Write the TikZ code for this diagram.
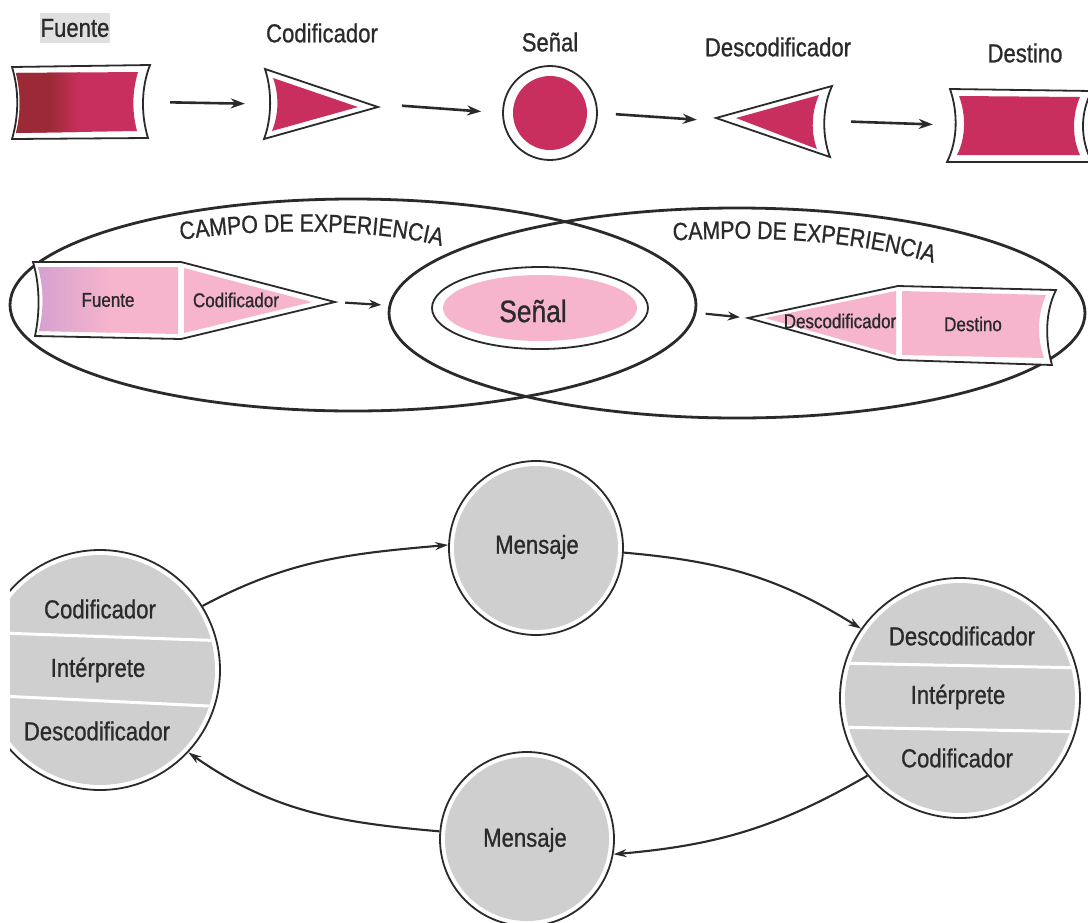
\documentclass[tikz,border=0pt]{standalone}
\usepackage{fontspec}
\setmainfont{Liberation Sans}[FakeStretch=0.85,FakeBold=0.8]
\usetikzlibrary{arrows.meta,decorations.text,shapes.geometric}
\definecolor{crim}{HTML}{C92F5E}
\definecolor{crimdark}{HTML}{9C2A36}
\definecolor{pinkf}{HTML}{F6B4CD}
\definecolor{mauve}{HTML}{C99AD0}
\definecolor{greyf}{HTML}{CFCFCF}
\definecolor{txt}{HTML}{2A2A2A}
\definecolor{ink}{HTML}{2A2A2A}
\tikzset{
  outl/.style={draw=ink, line width=1.8pt},
  bigell/.style={ellipse, draw=ink, line width=2.8pt, inner sep=0pt},
  flow/.style={draw=ink, line width=2.6pt, -{Stealth[length=14pt,width=10pt]}},
  midflow/.style={draw=ink, line width=2.2pt, -{Stealth[length=12pt,width=9pt]}},
  loopflow/.style={draw=ink, line width=2.1pt, -{Stealth[length=13pt,width=8pt]}},
  lbl/.style={text=txt, font=\fontsize{26}{30}\selectfont, inner sep=0pt},
  small/.style={text=txt, font=\fontsize{20}{24}\selectfont, inner sep=0pt},
  anchorbox/.style={draw=none, inner sep=0pt, rectangle},
  disc/.style={circle, draw=ink, line width=1.8pt, fill=white, inner sep=0pt},
  divider/.style={draw=white, line width=3pt},
}
\begin{document}
\begin{tikzpicture}[x=1pt,y=-1pt]
\useasboundingbox (0,0) rectangle (1088,922);
\fill[white] (0,0) rectangle (1088,922);

% ---------------- top row ----------------
\node[anchorbox, minimum width=138pt, minimum height=73pt] (fuente) at (81,102) {};
\node[anchorbox, minimum width=113pt, minimum height=69pt] (codif) at (321.5,104) {};
\node[disc, minimum size=94pt] (senal) at (550,113) {};
\node[anchorbox, minimum width=116pt, minimum height=72pt] (descod) at (774,121) {};
\node[anchorbox, minimum width=140pt, minimum height=72pt] (destino) at (1020,125) {};

% Fuente
\draw[outl, fill=white] (12,67) -- (150,65) .. controls (141,88) and (141,115) .. (148,138)
  -- (12,139) .. controls (19,115) and (19,90) .. cycle;
\begin{scope}
  \clip (16,73) -- (138,72) .. controls (132,92) and (132,112) .. (137,131)
    -- (16,133) .. controls (21,113) and (21,93) .. cycle;
  \fill[crim] (10,60) rectangle (150,140);
  \fill[crimdark] (10,60) rectangle (50,140);
  \shade[left color=crimdark, right color=crim] (50,60) rectangle (80,140);
\end{scope}
% Codificador
\draw[outl, fill=white] (265,69) -- (378,107) -- (264,139) .. controls (272,118) and (272,90) .. cycle;
\fill[crim] (273,78) -- (358,107) -- (272,131) .. controls (279,114) and (279,94) .. cycle;
% Senal
\fill[crim] (senal.center) circle[radius=37];
% Descodificador
\draw[outl, fill=white] (716,118) -- (832,86) .. controls (822,108) and (822,136) .. (830,157) -- cycle;
\fill[crim] (736,118) -- (819,95) .. controls (811,113) and (811,133) .. (817,149) -- cycle;
% Destino
\draw[outl, fill=white] (950,89) -- (1092,91) .. controls (1080,112) and (1080,140) .. (1092,162)
  -- (947,162) .. controls (958,140) and (958,112) .. cycle;
\fill[crim] (959,96) -- (1080,97) .. controls (1072,115) and (1072,138) .. (1080,155)
  -- (957,155) .. controls (966,138) and (966,114) .. cycle;

\draw[flow, shorten <=20pt, shorten >=20pt] (fuente.east) -- (codif.west);
\draw[flow, shorten <=24pt, shorten >=21pt] (codif.east) -- (senal.west);
\draw[flow, shorten <=18pt, shorten >=19pt] (senal.east) -- (descod.west);
\draw[flow, shorten <=19pt, shorten >=17pt] (descod.east) -- (destino.west);

\node[lbl, fill=black!12, inner xsep=1pt, inner ysep=6pt] (tfuente) at (75,28) {Fuente};
\node[lbl] (tcodif) at (322,33) {Codificador};
\node[lbl] (tsenal) at (550,42) {Señal};
\node[lbl] (tdescod) at (778,47) {Descodificador};
\node[lbl] (tdestino) at (1025,53) {Destino};

% ---------------- middle ----------------
\node[bigell, minimum width=686pt, minimum height=212pt] (campoA) at (353,305) {};
\node[bigell, minimum width=696pt, minimum height=210pt] (campoB) at (737,313) {};

\path[decorate, decoration={text along path, text align=center,
  text={|\fontsize{25}{25}\selectfont\color{txt}|CAMPO DE EXPERIENCIA}}]
  (174,241) .. controls (260,227) and (380,228) .. (448,248);
\path[decorate, decoration={text along path, text align=center,
  text={|\fontsize{25}{25}\selectfont\color{txt}|CAMPO DE EXPERIENCIA}}]
  (666,241) .. controls (760,235) and (860,240) .. (940,265);

% left composite
\node[anchorbox, minimum width=302pt, minimum height=76pt] (leftshape) at (184,302) {};
\draw[outl, fill=white] (33,262) -- (181,262) -- (335,302) -- (181,339) -- (35,336)
  .. controls (40,313) and (40,285) .. cycle;
\begin{scope}
  \clip (38,267) -- (178,267) -- (178,334) -- (39,331) .. controls (44,310) and (44,288) .. cycle;
  \fill[pinkf] (30,260) rectangle (180,340);
  \shade[left color=mauve!80!pinkf, right color=pinkf] (30,260) rectangle (110,340);
\end{scope}
\fill[pinkf] (184,268) -- (312,302) -- (184,333) -- cycle;
\node[small] (mfuente) at (108,300) {Fuente};
\node[small] (mcodif) at (236,300) {Codificador};

% senal middle
\node[ellipse, outl, fill=white, inner sep=0pt, minimum width=216pt, minimum height=82pt] (senalM) at (540,308) {};
\fill[pinkf] (senalM.center) ellipse[x radius=97, y radius=33];
\node[text=txt, font=\fontsize{31}{34}\selectfont, inner sep=0pt] (msenal) at (533,311) {Señal};

% right composite
\node[anchorbox, minimum width=308pt, minimum height=76pt] (rightshape) at (902,318) {};
\draw[outl, fill=white] (748,318) -- (898,286) -- (1056,290) .. controls (1045,312) and (1045,340) .. (1052,365)
  -- (898,360) -- cycle;
\fill[pinkf] (765,318) -- (896,291) -- (896,355) -- cycle;
\fill[pinkf] (902,291) -- (1046,295) .. controls (1037,315) and (1037,338) .. (1044,358) -- (902,355) -- cycle;
\node[small] (mdescod) at (840,321) {Descodificador};
\node[small] (mdestino) at (973,324) {Destino};

\draw[midflow, shorten <=10pt, shorten >=50pt] (leftshape.east) -- (senalM.west);
\draw[midflow, shorten <=57pt, shorten >=8pt] (senalM.east) -- (rightshape.west);

% ---------------- bottom ----------------
\begin{scope}
  \clip (10,0) rectangle (1088,922);
  \node[disc, minimum size=240pt] (L) at (100,670) {};
  \fill[greyf] (L.center) circle[radius=115];
  \begin{scope}
    \clip (L.center) circle[radius=115];
    \draw[divider] (0,633) -- (230,641);
    \draw[divider] (0,696) -- (230,707);
  \end{scope}
\end{scope}
\node[lbl] (lcod) at (100,609) {Codificador};
\node[lbl] (linter) at (98,670) {Intérprete};
\node[lbl] (ldesc) at (97,731) {Descodificador};

\node[disc, minimum size=240pt] (R) at (960,698) {};
\fill[greyf] (R.center) circle[radius=115];
\begin{scope}
  \clip (R.center) circle[radius=115];
  \draw[divider] (830,663) -- (1090,668);
  \draw[divider] (830,727) -- (1090,732);
\end{scope}
\node[lbl] (rdesc) at (962,636) {Descodificador};
\node[lbl] (rinter) at (958,697) {Intérprete};
\node[lbl] (rcod) at (957,758) {Codificador};

\node[disc, minimum size=174pt] (M1) at (536,548) {};
\fill[greyf] (M1.center) circle[radius=82];
\node[lbl] (m1t) at (537,547) {Mensaje};

\node[disc, minimum size=174pt] (M2) at (527,839) {};
\fill[greyf] (M2.center) circle[radius=82];
\node[lbl] (m2t) at (525,840) {Mensaje};

\draw[loopflow] (L.32) to[out=28, in=185] (M1.178);
\draw[loopflow] (M1.-3) to[out=-5, in=148] (R.145);
\draw[loopflow] (R.220) to[out=210, in=5] (M2.-10);
\draw[loopflow] (M2.175) to[out=175, in=-35] (L.-43);
\end{tikzpicture}
\end{document}
